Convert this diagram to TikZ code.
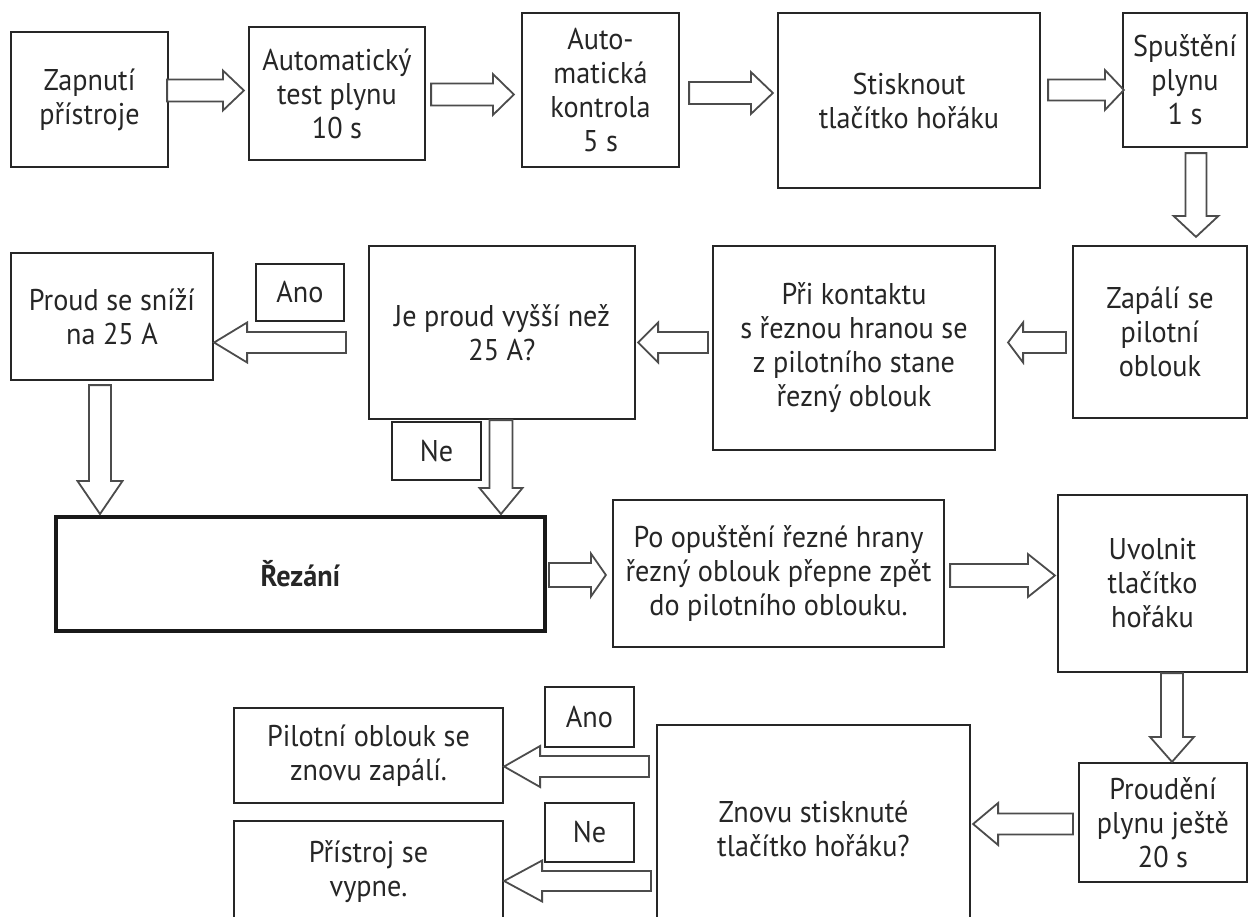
\documentclass[tikz,border=0pt]{standalone}
\usepackage{fontspec}
\setmainfont{PT Sans}[FakeStretch=0.94]
\usetikzlibrary{calc}
\tikzset{
  box/.style={draw=black!85, line width=1.1pt, align=center, inner sep=0pt,
    font=\fontsize{15pt}{17pt}\selectfont, text=black!85},
  thickbox/.style={box, line width=2pt, draw=black!90},
  blk/.style={draw=black!70, line width=0.9pt, fill=white, line join=miter},
}
% horizontal block arrow: tail, tip, shaft half width, head half width, head length (px), direction (1 right, -1 left)
\newcommand{\harr}[6]{%
  \draw[blk] let \p1=#1, \p2=#2 in
    (\x1,{\y1+#3*0.5pt}) -- ({\x2-(#6)*#5*0.5pt},{\y1+#3*0.5pt})
    -- ({\x2-(#6)*#5*0.5pt},{\y1+#4*0.5pt}) -- (\x2,\y1)
    -- ({\x2-(#6)*#5*0.5pt},{\y1-#4*0.5pt}) -- ({\x2-(#6)*#5*0.5pt},{\y1-#3*0.5pt})
    -- (\x1,{\y1-#3*0.5pt}) -- cycle;}
% downward block arrow: tail, tip, shaft half width, head half width, head length (px)
\newcommand{\varr}[5]{%
  \draw[blk] let \p1=#1, \p2=#2 in
    ({\x1-#3*0.5pt},\y1) -- ({\x1-#3*0.5pt},{\y2+#5*0.5pt})
    -- ({\x1-#4*0.5pt},{\y2+#5*0.5pt}) -- (\x1,\y2)
    -- ({\x1+#4*0.5pt},{\y2+#5*0.5pt}) -- ({\x1+#3*0.5pt},{\y2+#5*0.5pt})
    -- ({\x1+#3*0.5pt},\y1) -- cycle;}
\begin{document}
\begin{tikzpicture}[x=0.5pt,y=-0.5pt]
\useasboundingbox (0,0) rectangle (1250,917);
\clip (0,0) rectangle (1250,917);
\fill[white] (0,0) rectangle (1250,917);

% row 1
\node[box, minimum width=78.5pt, minimum height=67.5pt] (zap) at (89.5,99.5) {Zapnutí\\přístroje};
\node[box, minimum width=88pt, minimum height=66.5pt] (aut) at (337,93.5) {Automatický\\test plynu\\10 s};
\node[box, minimum width=78.5pt, minimum height=77pt] (kon) at (600.5,90) {Auto-\\matická\\kontrola\\5 s};
\node[box, minimum width=131pt, minimum height=87.5pt] (sti) at (909,100.5) {Stisknout\\tlačítko hořáku};
\node[box, minimum width=62pt, minimum height=67pt] (spu) at (1185,80) {Spuštění\\plynu\\1 s};

% row 2
\node[box, minimum width=101pt, minimum height=63.5pt] (pro) at (112,316.5) {Proud se sníží\\na 25 A};
\node[box, minimum width=44pt, minimum height=28.5pt] (ano1) at (300,292.5) {Ano};
\node[box, minimum width=133pt, minimum height=86.5pt] (je) at (502,332.5) {Je proud vyšší než\\25 A?};
\node[box, minimum width=44.5pt, minimum height=29pt] (ne1) at (436.5,451) {Ne};
\node[box, minimum width=141pt, minimum height=102pt] (pri) at (854,348) {Při kontaktu\\s řeznou hranou se\\z pilotního stane\\řezný oblouk};
\node[box, minimum width=87pt, minimum height=86pt] (zap2) at (1160,332) {Zapálí se\\pilotní\\oblouk};

% row 3
\node[thickbox, minimum width=244.5pt, minimum height=57pt] (rez) at (300.5,574) {\bfseries Řezání};
\node[box, minimum width=165.5pt, minimum height=73.5pt] (po) at (778.5,573.5) {Po opuštění řezné hrany\\řezný oblouk přepne zpět\\do pilotního oblouku.};
\node[box, minimum width=94.5pt, minimum height=88.5pt] (uvo) at (1152.5,583.5) {Uvolnit\\tlačítko\\hořáku};

% row 4
\node[box, minimum width=84pt, minimum height=59.5pt] (prd) at (1163,822.5) {Proudění\\plynu ještě\\20 s};
\node[box, minimum width=156.5pt, minimum height=103.5pt] (zno) at (813.5,828.5) {Znovu stisknuté\\tlačítko hořáku?};
\node[box, minimum width=134.5pt, minimum height=47.5pt] (pil) at (368.5,755.5) {Pilotní oblouk se\\znovu zapálí.};
\node[box, minimum width=44.5pt, minimum height=30pt] (ano2) at (589.5,717) {Ano};
\node[box, minimum width=134.5pt, minimum height=50.5pt] (pst) at (368.5,871.5) {Přístroj se\\vypne.};
\node[box, minimum width=44.5pt, minimum height=29.5pt] (ne2) at (589.5,832.5) {Ne};

% connectors
\harr{($(zap.east)+(-2,-9)$)}{($(aut.west)+(-4,0)$)}{11}{20}{21}{1}
\harr{($(aut.east)+(5,1)$)}{($(kon.west)+(-7,0)$)}{11}{20.5}{21}{1}
\harr{($(kon.east)+(9,3)$)}{($(sti.west)+(-4,0)$)}{11}{21}{22}{1}
\harr{($(sti.east)+(7,-10.5)$)}{($(spu.west)+(2,0)$)}{10.5}{20}{19}{1}
\varr{($(spu.south)+(11,5)$)}{($(zap2.north)+(0,-8)$)}{10.5}{22.5}{21}
\harr{($(zap2.west)+(-6,10.5)$)}{($(pri.east)+(12,0)$)}{10.5}{20}{15}{-1}
\harr{($(pri.west)+(-4,-5.5)$)}{($(je.east)+(2,0)$)}{10.5}{20}{20}{-1}
\harr{($(je.west)+(-22,10)$)}{(pro.east)}{10.5}{20}{33}{-1}
\varr{($(pro.south)+(-12,4)$)}{($(rez.north)+(0,-1)$)}{11}{22.5}{33}
\varr{($(je.south)+(-1,0)$)}{($(rez.north)+(0,-1)$)}{11.5}{21.5}{26}
\harr{($(rez.east)+(2,1)$)}{($(po.west)+(-6,0)$)}{12}{21.5}{15}{1}
\harr{($(po.east)+(5,2)$)}{($(uvo.west)+(-2,0)$)}{11.5}{21.5}{27}{1}
\varr{($(uvo.south)+(19.5,0)$)}{(prd.north)}{11}{22}{25}
\harr{($(prd.west)+(-5,1.5)$)}{($(zno.east)+(2,0)$)}{10.5}{21}{25}{-1}
\harr{($(zno.west)+(-7,-62)$)}{(pil.east)}{10.5}{20.5}{36}{-1}
\harr{($(zno.west)+(-5,52.5)$)}{(pst.east)}{10}{20.5}{38}{-1}
\end{tikzpicture}
\end{document}
